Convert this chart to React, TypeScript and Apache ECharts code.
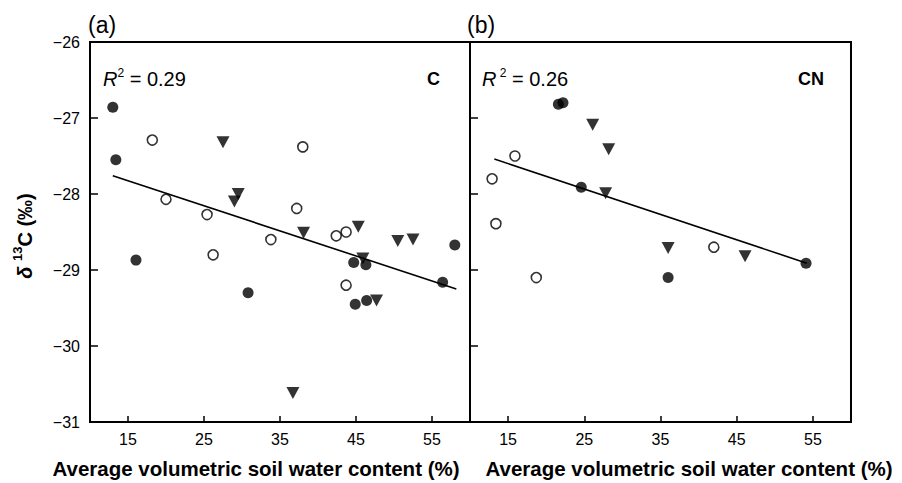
import React, { useEffect, useRef } from "react";
import * as echarts from "echarts";

const xTicks = [15, 25, 35, 45, 55];
const yTicks = [-26, -27, -28, -29, -30, -31];

// Panel (a) C
const cFilled: [number, number][] = [
  [13.0, -26.86], [13.4, -27.55], [16.05, -28.87], [30.8, -29.3], [44.7, -28.9],
  [46.3, -28.93], [44.9, -29.45], [46.4, -29.4], [56.4, -29.16], [58.0, -28.67],
];
const cOpen: [number, number][] = [
  [18.2, -27.29], [20.0, -28.07], [25.4, -28.27], [26.2, -28.8], [33.8, -28.6],
  [37.2, -28.19], [38.0, -27.38], [42.4, -28.55], [43.7, -28.5], [43.7, -29.2],
];
const cTri: [number, number][] = [
  [27.5, -27.32], [29.5, -28.0], [29.0, -28.1], [38.1, -28.51], [45.3, -28.43],
  [50.5, -28.62], [52.5, -28.6], [45.9, -28.85], [47.7, -29.4], [36.7, -30.62],
];
const cFit: [number, number][] = [[13.0, -27.76], [58.2, -29.25]];

// Panel (b) CN
const cnFilled: [number, number][] = [
  [21.6, -26.82], [22.2, -26.8], [24.6, -27.91], [36.0, -29.1], [54.1, -28.91],
];
const cnOpen: [number, number][] = [
  [15.9, -27.5], [12.9, -27.8], [13.4, -28.39], [18.7, -29.1], [42.0, -28.7],
];
const cnTri: [number, number][] = [
  [26.1, -27.09], [28.2, -27.41], [27.8, -27.99], [36.0, -28.71], [46.1, -28.82],
];
const cnFit: [number, number][] = [[13.2, -27.54], [54.2, -28.91]];

const FONT = "Liberation Sans, Arial, sans-serif";

export default function App() {
  const ref = useRef<HTMLDivElement>(null);
  useEffect(() => {
    if (!ref.current) return;
    const chart = echarts.init(ref.current, null, { renderer: "svg" });

    const mkX = (gi: number) => ({
      type: "value",
      gridIndex: gi,
      min: 10,
      max: 60,
      interval: 5,
      splitLine: { show: false },
      axisLine: { show: true, onZero: false, lineStyle: { color: "#000", width: 2 } },
      axisTick: { show: true, inside: true, length: 6, customValues: xTicks, lineStyle: { color: "#000", width: 1.5 } },
      axisLabel: { show: true, customValues: xTicks, margin: 9, color: "#000", fontSize: 16, fontFamily: FONT },
    });
    const mkY = (gi: number, labels: boolean) => ({
      type: "value",
      gridIndex: gi,
      min: -31,
      max: -26,
      interval: 1,
      splitLine: { show: false },
      axisLine: { show: true, onZero: false, lineStyle: { color: "#000", width: 2 } },
      axisTick: { show: true, inside: true, length: 8, customValues: yTicks, lineStyle: { color: "#000", width: 1.5 } },
      axisLabel: {
        show: labels,
        customValues: yTicks,
        margin: 10,
        color: "#000",
        fontSize: 16,
        fontFamily: FONT,
        formatter: (v: number) => String(v).replace("-", "\u2212"),
      },
    });

    const filled = (gi: number, data: [number, number][]) => ({
      type: "scatter", xAxisIndex: gi, yAxisIndex: gi, data,
      symbol: "circle", symbolSize: 11,
      itemStyle: { color: "#000" }, z: 3,
    });
    const open = (gi: number, data: [number, number][]) => ({
      type: "scatter", xAxisIndex: gi, yAxisIndex: gi, data,
      symbol: "circle", symbolSize: 10,
      itemStyle: { color: "#fff", borderColor: "#000", borderWidth: 1.6 }, z: 3,
    });
    const tri = (gi: number, data: [number, number][]) => ({
      type: "scatter", xAxisIndex: gi, yAxisIndex: gi, data,
      symbol: "triangle", symbolRotate: 180, symbolSize: [13, 12],
      itemStyle: { color: "#000" }, z: 3,
    });
    const fit = (gi: number, data: [number, number][]) => ({
      type: "line", xAxisIndex: gi, yAxisIndex: gi, data,
      symbol: "none", lineStyle: { color: "#000", width: 1.6 }, z: 2,
    });

    const txt = (x: number, y: number, text: string, extra: any = {}) => ({
      type: "text", x, y,
      style: { text, fill: "#000", font: `17px ${FONT}`, textAlign: "left", textVerticalAlign: "middle", ...extra },
    });

    const r2 = (x: number, y: number, val: string, gap: string) => ({
      type: "text", x, y,
      style: {
        text: `{i|R}{s|${gap}2}{n| = ${val}}`,
        textVerticalAlign: "middle",
        rich: {
          i: { fontStyle: "italic", fontSize: 20, fontFamily: FONT, fill: "#000", lineHeight: 22, verticalAlign: "bottom" },
          s: { fontSize: 12, fontFamily: FONT, fill: "#000", lineHeight: 22, verticalAlign: "top" },
          n: { fontSize: 20, fontFamily: FONT, fill: "#000", lineHeight: 22, verticalAlign: "bottom" },
        },
      },
    });

    chart.setOption({
      animation: false,
      backgroundColor: "#fff",
      grid: [
        { left: 90, top: 42, width: 380, height: 380, show: true, borderColor: "#000", borderWidth: 2, backgroundColor: "transparent" },
        { left: 470, top: 42, width: 381, height: 380, show: true, borderColor: "#000", borderWidth: 2, backgroundColor: "transparent" },
      ],
      xAxis: [mkX(0), mkX(1)],
      yAxis: [mkY(0, true), mkY(1, false)],
      series: [
        fit(0, cFit), open(0, cOpen), tri(0, cTri), filled(0, cFilled),
        fit(1, cnFit), open(1, cnOpen), tri(1, cnTri), filled(1, cnFilled),
      ],
      graphic: [
        txt(88, 25, "(a)", { font: `23px ${FONT}` }),
        txt(467, 25, "(b)", { font: `23px ${FONT}` }),
        r2(103, 78, "0.29", ""),
        r2(482, 78, "0.26", " "),
        txt(427, 79, "C", { font: `bold 18px ${FONT}` }),
        txt(798, 79, "CN", { font: `bold 18px ${FONT}` }),
        txt(256, 468, "Average volumetric soil water content (%)", { font: `bold 20.5px ${FONT}`, textAlign: "center" }),
        txt(689, 468, "Average volumetric soil water content (%)", { font: `bold 20.5px ${FONT}`, textAlign: "center" }),
        {
          type: "text",
          x: 23,
          y: 236,
          rotation: Math.PI / 2,
          style: {
            text: "{d|\u03b4 }{s|13}{n|C (\u2030)}",
            textAlign: "center",
            textVerticalAlign: "middle",
            rich: {
              d: { fontSize: 20, fontFamily: FONT, fontWeight: "bold", fill: "#000", lineHeight: 24, verticalAlign: "bottom", fontStyle: "italic" },
              s: { fontSize: 13, fontFamily: FONT, fontWeight: "bold", fill: "#000", lineHeight: 24, verticalAlign: "top" },
              n: { fontSize: 20, fontFamily: FONT, fontWeight: "bold", fill: "#000", lineHeight: 24, verticalAlign: "bottom" },
            },
          },
        },
      ],
    });
    return () => chart.dispose();
  }, []);
  return <div ref={ref} style={{ position: "fixed", left: 0, top: 0, width: 902, height: 483 }} />;
}
